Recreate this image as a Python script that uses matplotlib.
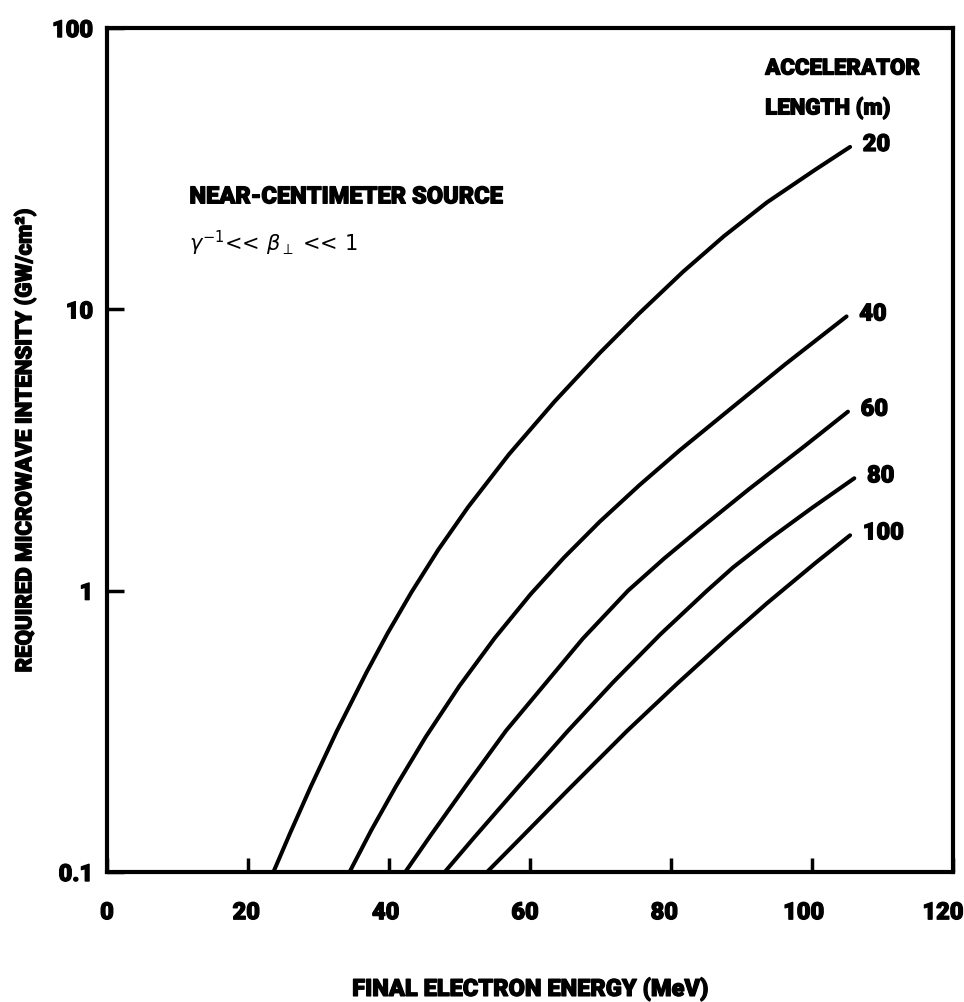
import matplotlib
matplotlib.use('Agg')
import matplotlib.pyplot as plt
import matplotlib.patheffects as pe
from matplotlib.transforms import ScaledTranslation

# curves: final electron energy (MeV) vs required intensity (GW/cm^2)
lengths = ['20', '40', '60', '80', '100']

energy_20 = [23.6, 26.0, 28.9, 32.6, 36.8, 39.8, 43.2, 47.0, 51.2, 57.0, 63.5, 69.9, 75.4, 81.7, 87.5, 93.6, 100.4, 105.4]
inten_20 = [0.1, 0.138, 0.201, 0.317, 0.512, 0.706, 0.989, 1.40, 1.98, 3.05, 4.71, 7.0, 9.63, 13.6, 18.2, 24.0, 31.3, 37.8]

energy_40 = [34.4, 37.5, 41.0, 45.2, 50.0, 55.0, 60.1, 64.8, 69.9, 75.5, 81.2, 88.0, 96.2, 104.9]
inten_40 = [0.1, 0.141, 0.202, 0.302, 0.459, 0.679, 0.973, 1.31, 1.76, 2.37, 3.15, 4.34, 6.38, 9.44]

energy_60 = [42.3, 46.0, 51.0, 56.6, 62.0, 67.5, 73.9, 79.0, 84.1, 91.0, 98.9, 105.1]
inten_60 = [0.1, 0.136, 0.204, 0.318, 0.462, 0.676, 1.0, 1.30, 1.66, 2.29, 3.26, 4.33]

energy_80 = [47.9, 52.0, 58.5, 65.4, 71.8, 78.5, 85.1, 88.8, 94.0, 100.0, 106.0]
inten_80 = [0.1, 0.132, 0.203, 0.318, 0.473, 0.70, 1.0, 1.21, 1.53, 1.97, 2.51]

energy_100 = [53.9, 58.0, 65.5, 73.8, 80.9, 88.0, 93.6, 100.5, 105.4]
inten_100 = [0.1, 0.127, 0.197, 0.318, 0.468, 0.679, 0.902, 1.256, 1.574]

curves = [(energy_20, inten_20), (energy_40, inten_40), (energy_60, inten_60),
          (energy_80, inten_80), (energy_100, inten_100)]

x_ticks = [0, 20, 40, 60, 80, 100, 120]
y_ticks = [0.1, 1, 10, 100]
y_tick_labels = ['0.1', '1', '10', '100']

heavy = [pe.withStroke(linewidth=0.9, foreground='black')]
bold = dict(family=['Roboto', 'DejaVu Sans'], weight='black', path_effects=heavy)

fig = plt.figure(figsize=(9.64, 10.02), dpi=100)
ax = fig.add_axes([0.111, 0.1297, 0.8776, 0.8423])

for (e, i), name in zip(curves, lengths):
    ax.plot(e, i, color='black', lw=2.9, solid_capstyle='round', solid_joinstyle='round')
    ax.text(e[-1] + 1.8, i[-1] * 1.02, name, fontsize=17, va='center', ha='left', **bold)

ax.set_yscale('log')
ax.set_xlim(0, 120)
ax.set_ylim(0.1, 100)
ax.minorticks_off()
ax.set_xticks(x_ticks)
ax.set_xticklabels([str(v) for v in x_ticks], fontsize=17, **bold)
ax.set_yticks(y_ticks)
ax.set_yticklabels(y_tick_labels, fontsize=17, **bold)
ax.tick_params(axis='x', direction='in', length=10, width=2.5, pad=21, top=False)
ax.tick_params(axis='y', direction='in', length=12, width=2.5, pad=10, right=False)
# the hand-lettered x labels sit a little left of their ticks
for v, lab in zip(x_ticks, ax.get_xticklabels()):
    lab.set_transform(lab.get_transform() + ScaledTranslation(-v / 120 * 0.10, 0, fig.dpi_scale_trans))
for s in ax.spines.values():
    s.set_linewidth(3)

ax.set_xlabel('FINAL ELECTRON ENERGY (MeV)', fontsize=17, labelpad=38, **bold)
fig.text(0.026, 1 - 440 / 1002, 'REQUIRED MICROWAVE INTENSITY (GW/cm²)', rotation=90,
         fontsize=16, ha='center', va='center', **bold)

ax.text(0.0975, 0.80, 'NEAR-CENTIMETER SOURCE', transform=ax.transAxes, fontsize=17,
        va='center', ha='left', **bold)
ax.text(0.0975, 0.745, r'$\gamma^{-1}$<< $\beta_{\perp}$ << 1', transform=ax.transAxes,
        fontsize=15, va='center', ha='left')

ax.text(0.778, 0.952, 'ACCELERATOR', transform=ax.transAxes, fontsize=16, va='center', ha='left', **bold)
ax.text(0.778, 0.905, 'LENGTH (m)', transform=ax.transAxes, fontsize=16, va='center', ha='left', **bold)

plt.savefig('out.png', dpi=100)
